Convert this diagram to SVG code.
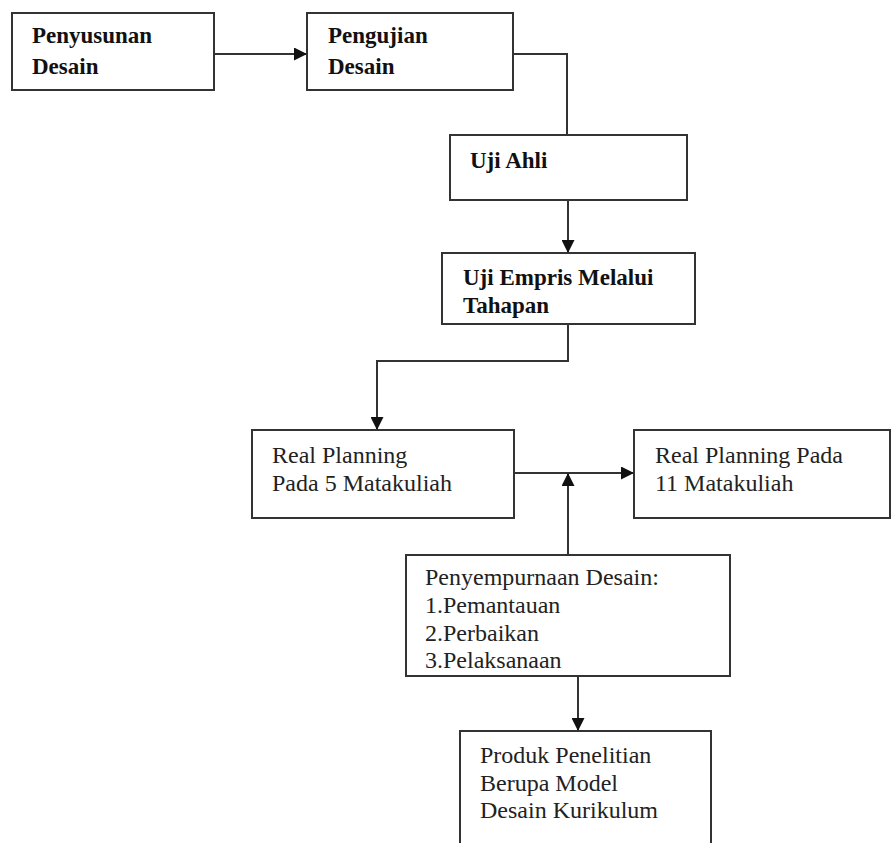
<svg xmlns="http://www.w3.org/2000/svg" width="893" height="843" viewBox="0 0 893 843">
<style>
.box{fill:#fff;stroke:#333;stroke-width:2}
.b{font-family:"Liberation Serif","Times New Roman",serif;font-weight:bold;font-size:23px;fill:#111}
.r{font-family:"Liberation Serif","Times New Roman",serif;font-size:24px;fill:#222}
.ln{fill:none;stroke:#333;stroke-width:2}
</style>
<defs>
<marker id="ah" markerWidth="13" markerHeight="13" refX="12" refY="6.5" orient="auto" markerUnits="userSpaceOnUse">
<path d="M0,0 L13,6.5 L0,13 Z" fill="#111"/>
</marker>
</defs>
<rect width="893" height="843" fill="#fff"/>
<g id="connectors">
<line class="ln" x1="214" y1="54" x2="306" y2="54" marker-end="url(#ah)"/>
<polyline class="ln" points="513,54 567,54 567,135"/>
<line class="ln" x1="568" y1="200" x2="568" y2="252" marker-end="url(#ah)"/>
<polyline class="ln" points="568,324 568,361 377,361 377,429" marker-end="url(#ah)"/>
<line class="ln" x1="514" y1="473" x2="633" y2="473" marker-end="url(#ah)"/>
<line class="ln" x1="568" y1="555" x2="568" y2="474" marker-end="url(#ah)"/>
<line class="ln" x1="578" y1="676" x2="578" y2="730" marker-end="url(#ah)"/>
</g>
<g id="penyusunan">
<rect class="box" x="12" y="13" width="202" height="77"/>
<text class="b" x="32" y="43">Penyusunan</text>
<text class="b" x="32" y="74">Desain</text>
</g>
<g id="pengujian">
<rect class="box" x="307" y="13" width="206" height="77"/>
<text class="b" x="328" y="43">Pengujian</text>
<text class="b" x="328" y="74">Desain</text>
</g>
<g id="uji-ahli">
<rect class="box" x="450" y="135" width="237" height="65"/>
<text class="b" x="470" y="168">Uji Ahli</text>
</g>
<g id="uji-empris">
<rect class="box" x="442" y="253" width="253" height="71"/>
<text class="b" x="463" y="285">Uji Empris Melalui</text>
<text class="b" x="463" y="313">Tahapan</text>
</g>
<g id="real5">
<rect class="box" x="252" y="430" width="262" height="88"/>
<text class="r" x="272" y="463">Real Planning</text>
<text class="r" x="272" y="491">Pada 5 Matakuliah</text>
</g>
<g id="real11">
<rect class="box" x="634" y="430" width="256" height="88"/>
<text class="r" x="655" y="463">Real Planning Pada</text>
<text class="r" x="655" y="491">11 Matakuliah</text>
</g>
<g id="penyempurnaan">
<rect class="box" x="406" y="555" width="324" height="121"/>
<text class="r" x="425" y="585">Penyempurnaan Desain:</text>
<text class="r" x="425" y="613">1.Pemantauan</text>
<text class="r" x="425" y="641">2.Perbaikan</text>
<text class="r" x="425" y="668">3.Pelaksanaan</text>
</g>
<g id="produk">
<path class="box" d="M460,843 L460,731 L711,731 L711,843"/>
<text class="r" x="480" y="763">Produk Penelitian</text>
<text class="r" x="480" y="791">Berupa Model</text>
<text class="r" x="480" y="818">Desain Kurikulum</text>
</g>
</svg>
